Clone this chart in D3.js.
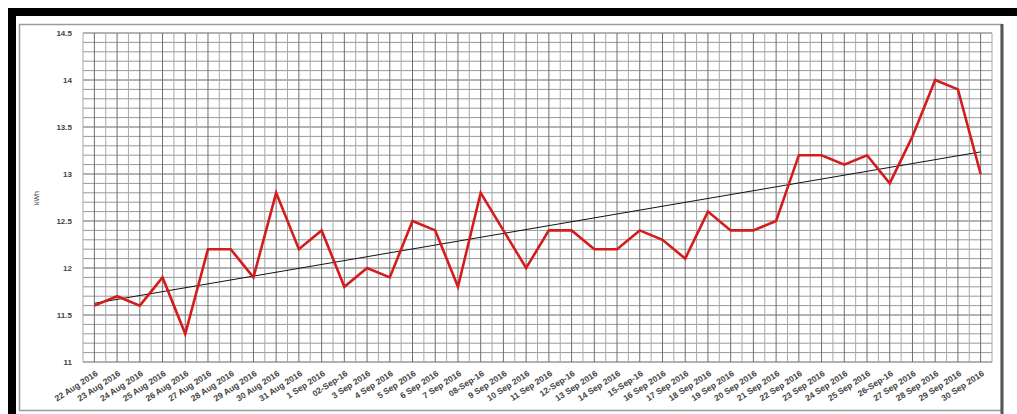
<!DOCTYPE html>
<html>
<head>
<meta charset="utf-8">
<script src="https://cdn.jsdelivr.net/npm/d3@7"></script>
<style>
  body { margin: 0; background: #fff; }
  text { font-family: "Liberation Sans", Arial, sans-serif; }
</style>
</head>
<body>
<script>
// daily readings, 22 Aug - 30 Sep 2016
const dates = [
  "22 Aug 2016", "23 Aug 2016", "24 Aug 2016", "25 Aug 2016", "26 Aug 2016",
  "27 Aug 2016", "28 Aug 2016", "29 Aug 2016", "30 Aug 2016", "31 Aug 2016",
  "1 Sep 2016", "02-Sep-16", "3 Sep 2016", "4 Sep 2016", "5 Sep 2016",
  "6 Sep 2016", "7 Sep 2016", "08-Sep-16", "9 Sep 2016", "10 Sep 2016",
  "11 Sep 2016", "12-Sep-16", "13 Sep 2016", "14 Sep 2016", "15-Sep-16",
  "16 Sep 2016", "17 Sep 2016", "18 Sep 2016", "19 Sep 2016", "20 Sep 2016",
  "21 Sep 2016", "22 Sep 2016", "23 Sep 2016", "24 Sep 2016", "25 Sep 2016",
  "26-Sep-16", "27 Sep 2016", "28 Sep 2016", "29 Sep 2016", "30 Sep 2016"
];
const kwh = [
  11.6, 11.7, 11.6, 11.9, 11.3, 12.2, 12.2, 11.9, 12.8, 12.2,
  12.4, 11.8, 12.0, 11.9, 12.5, 12.4, 11.8, 12.8, 12.4, 12.0,
  12.4, 12.4, 12.2, 12.2, 12.4, 12.3, 12.1, 12.6, 12.4, 12.4,
  12.5, 13.2, 13.2, 13.1, 13.2, 12.9, 13.4, 14.0, 13.9, 13.0
];
const yTicks = [11, 11.5, 12, 12.5, 13, 13.5, 14, 14.5];
const yTickLabels = ["11", "11.5", "12", "12.5", "13", "13.5", "14", "14.5"];

const W = 1017, H = 414;
const plot = { left: 83, right: 992, top: 33, bottom: 362 };

const svg = d3.select("body").append("svg")
  .attr("width", W).attr("height", H);

// outer frame
svg.append("rect")
  .attr("x", 12).attr("y", 12).attr("width", 1200).attr("height", 600)
  .attr("fill", "none").attr("stroke", "#000").attr("stroke-width", 8);
// chart area border
svg.append("rect")
  .attr("x", 19.5).attr("y", 24.5).attr("width", 982).attr("height", 386)
  .attr("fill", "#fff").attr("stroke", "#9a9a9a").attr("stroke-width", 1.5);
svg.append("line")
  .attr("x1", 1002).attr("x2", 1002).attr("y1", 24).attr("y2", H)
  .attr("stroke", "#555").attr("stroke-width", 3);

const x = d3.scalePoint().domain(dates).range([plot.left, plot.right]).padding(0.5);
const y = d3.scaleLinear().domain([11, 14.5]).range([plot.bottom, plot.top]);

const grid = svg.append("g");
// horizontal grid every 0.1
d3.range(0, 36).forEach(i => {
  const v = 11 + i * 0.1;
  const major = i % 5 === 0;
  grid.append("line")
    .attr("x1", plot.left).attr("x2", plot.right)
    .attr("y1", y(v)).attr("y2", y(v))
    .attr("stroke", major ? "#666" : "#999").attr("stroke-width", 1);
});
// vertical grid at each category and between categories
const step = x.step();
d3.range(0, dates.length * 2 + 1).forEach(k => {
  const xx = plot.left + k * step / 2;
  grid.append("line")
    .attr("x1", xx).attr("x2", xx)
    .attr("y1", plot.top).attr("y2", plot.bottom)
    .attr("stroke", k % 2 === 1 ? "#6e6e6e" : "#a8a8a8").attr("stroke-width", 1);
});

// y axis labels
svg.append("g").selectAll("text").data(yTicks).join("text")
  .attr("x", 72).attr("y", d => y(d)).attr("dy", "0.35em")
  .attr("text-anchor", "end").attr("font-size", 8).attr("font-weight", "bold")
  .attr("fill", "#444")
  .text((d, i) => yTickLabels[i]);

svg.append("text")
  .attr("transform", "translate(39,198) rotate(-90)")
  .attr("text-anchor", "middle").attr("font-size", 7).attr("fill", "#444")
  .text("kWh");

// x axis labels
svg.append("g").selectAll("text").data(dates).join("text")
  .attr("transform", d => `translate(${x(d) + 4},${plot.bottom + 13}) rotate(-33)`)
  .attr("text-anchor", "end").attr("font-size", 8.5).attr("font-weight", "bold")
  .attr("fill", "#444")
  .text(d => d);

// linear trend from least squares
const idx = d3.range(kwh.length);
const mx = d3.mean(idx), my = d3.mean(kwh);
const slope = d3.sum(idx, i => (i - mx) * (kwh[i] - my)) / d3.sum(idx, i => (i - mx) ** 2);
const icpt = my - slope * mx;
svg.append("line")
  .attr("x1", x(dates[0])).attr("y1", y(icpt))
  .attr("x2", x(dates[dates.length - 1])).attr("y2", y(icpt + slope * (kwh.length - 1)))
  .attr("stroke", "#111").attr("stroke-width", 1);

// data line
svg.append("path")
  .datum(kwh)
  .attr("fill", "none").attr("stroke", "#d41c1c").attr("stroke-width", 2.6)
  .attr("stroke-linejoin", "miter")
  .attr("d", d3.line().x((d, i) => x(dates[i])).y(d => y(d)));
</script>
</body>
</html>
